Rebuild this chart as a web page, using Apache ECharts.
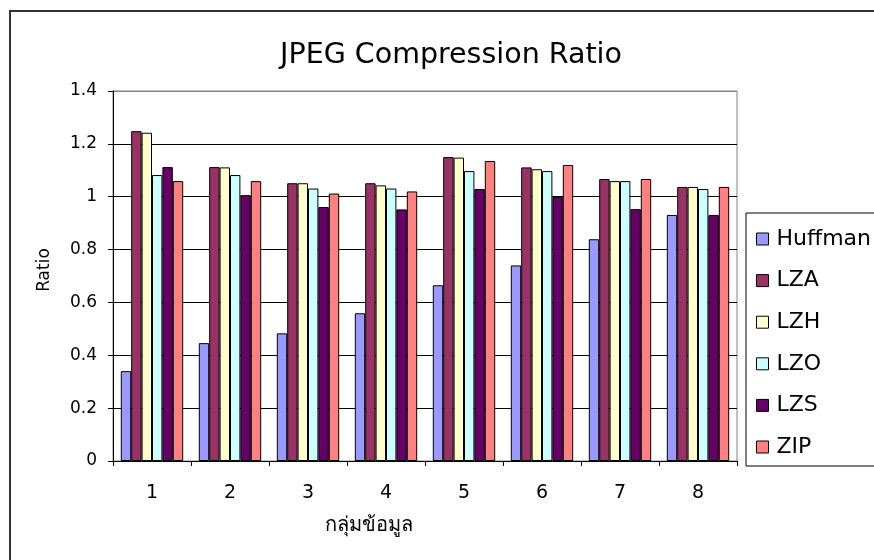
<!DOCTYPE html>
<html><head><meta charset="utf-8">
<script src="https://cdn.jsdelivr.net/npm/echarts@6/dist/echarts.min.js"></script>
<style>html,body{margin:0;padding:0;background:#fff}#c{width:874px;height:560px}</style>
</head><body><div id="c"></div>
<script>
const categories = ['1','2','3','4','5','6','7','8'];
const seriesNames = ['Huffman','LZA','LZH','LZO','LZS','ZIP'];
const huffman = [0.34, 0.446, 0.483, 0.559, 0.665, 0.74, 0.839, 0.931];
const lza     = [1.248, 1.112, 1.051, 1.051, 1.15, 1.111, 1.067, 1.037];
const lzh     = [1.242, 1.111, 1.051, 1.043, 1.148, 1.104, 1.059, 1.037];
const lzo     = [1.082, 1.082, 1.031, 1.031, 1.097, 1.097, 1.059, 1.029];
const lzs     = [1.112, 1.006, 0.961, 0.952, 1.029, 0.999, 0.953, 0.931];
const zip     = [1.059, 1.059, 1.012, 1.02, 1.135, 1.12, 1.067, 1.037];
const yTicks  = ['0','0.2','0.4','0.6','0.8','1','1.2','1.4'];

const allData = [huffman, lza, lzh, lzo, lzs, zip];
const colors = ['#9999FF','#993366','#FFFFCC','#CCFFFF','#660066','#FF8080'];
const FONT = 'DejaVu Sans';

const chart = echarts.init(document.getElementById('c'));
chart.setOption({
  backgroundColor: '#fff',
  animation: false,
  textStyle: {fontFamily: FONT},
  title: {
    text: 'JPEG Compression Ratio', left: 446, top: 36, textAlign: 'center',
    textStyle: {fontFamily: FONT, fontSize: 28.5, fontWeight: 'normal', color: '#000'}
  },
  grid: {left: 113, top: 91, width: 624, height: 370, show: true, borderColor: '#808080', borderWidth: 1, backgroundColor: 'transparent'},
  legend: {
    orient: 'vertical', left: 746, top: 213,
    padding: [13, 30, 6, 10], itemGap: 15.6,
    itemWidth: 12, itemHeight: 12, icon: 'rect',
    borderColor: '#000', borderWidth: 1,
    textStyle: {fontFamily: FONT, fontSize: 22, color: '#000', padding: [0,0,0,3], lineHeight: 26},
    itemStyle: {borderColor: '#000', borderWidth: 1},
    data: seriesNames
  },
  xAxis: {
    type: 'category', data: categories,
    axisLine: {lineStyle: {color: '#000', width: 1}},
    axisTick: {show: true, inside: false, length: 5, lineStyle: {color: '#000'}},
    axisLabel: {fontFamily: FONT, fontSize: 19, color: '#000', margin: 23},
    splitLine: {show: false}
  },
  yAxis: {
    type: 'value', min: 0, max: 1.4, interval: 0.2,
    axisLine: {show: true, lineStyle: {color: '#000', width: 1}},
    axisTick: {show: true, length: 5, lineStyle: {color: '#000'}},
    axisLabel: {fontFamily: FONT, fontSize: 17, color: '#000', margin: 16,
      formatter: (v) => yTicks[Math.round(v / 0.2)]},
    splitLine: {show: true, lineStyle: {color: ['#000','#000','#000','#000','#000','#000','#000','#808080'], width: 1}}
  },
  graphic: [
    {type: 'rect', shape: {x: 10, y: 11, width: 900, height: 600}, style: {fill: 'none', stroke: '#333', lineWidth: 2}, silent: true, z: 100},
    {type: 'text', rotation: Math.PI / 2, style: {text: 'Ratio', font: '17px ' + FONT, fill: '#000', textAlign: 'center', textVerticalAlign: 'middle'}, x: 45, y: 270},
    {type: 'text', style: {text: 'กลุ่มข้อมูล', font: '20px ' + FONT, fill: '#000', textAlign: 'center', textVerticalAlign: 'middle'}, x: 369, y: 526}
  ],
  series: seriesNames.map((n, i) => ({
    name: n, type: 'bar', data: allData[i],
    barGap: '0%', barCategoryGap: '20%',
    itemStyle: {color: colors[i], borderColor: '#000', borderWidth: 1}
  }))
});
</script></body></html>
